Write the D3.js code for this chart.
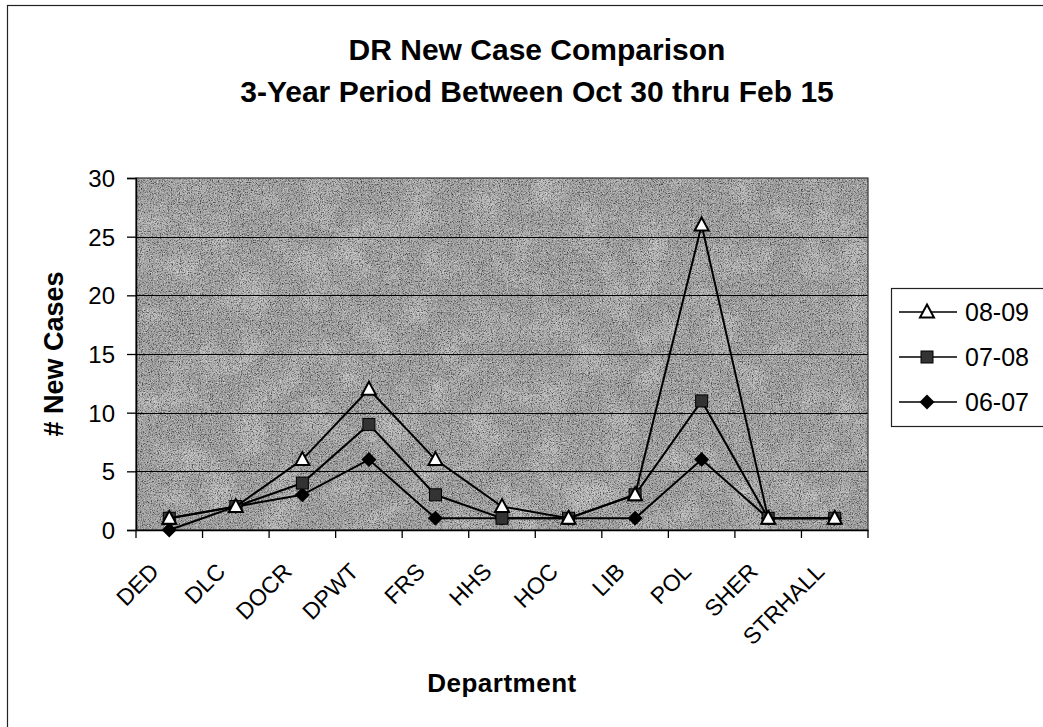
<!DOCTYPE html>
<html>
<head>
<meta charset="utf-8">
<script src="https://cdn.jsdelivr.net/npm/d3@7"></script>
<style>
  body { margin: 0; background: #fff; }
  text { font-family: Arial, "Liberation Sans", sans-serif; }
</style>
</head>
<body>
<div id="chart"></div>
<script>

// departments on the x axis
var departments = ["DED", "DLC", "DOCR", "DPWT", "FRS", "HHS", "HOC", "LIB", "POL", "SHER", "STRHALL"];

// new cases per season
var cases0809 = [1, 2, 6, 12, 6, 2, 1, 3, 26, 1, 1];
var cases0708 = [1, 2, 4, 9, 3, 1, 1, 3, 11, 1, 1];
var cases0607 = [0, 2, 3, 6, 1, 1, 1, 1, 6, 1, 1];

var seriesNames = ["08-09", "07-08", "06-07"];
var yTicks = [0, 5, 10, 15, 20, 25, 30];

var series = [
  {name: seriesNames[2], values: cases0607, marker: "diamond"},
  {name: seriesNames[1], values: cases0708, marker: "square"},
  {name: seriesNames[0], values: cases0809, marker: "triangle"}
];

///////////////////////////////////////////////////////////////
/////////////Line chart Renderer///////////////////////////////
///////////////////////////////////////////////////////////////
var W = 1043, H = 727;
var margin = {top: 178, right: 175, bottom: 197, left: 136},
  width = W - margin.left - margin.right,
  height = H - margin.top - margin.bottom;

var root = d3.select("#chart")
  .append("svg")
  .attr("width", W)
  .attr("height", H);

// texture for the scanned gray plot area
var defs = root.append("defs");
var grain = defs.append("filter").attr("id", "grain")
  .attr("x", 0).attr("y", 0).attr("width", 1).attr("height", 1);
grain.append("feTurbulence")
  .attr("type", "fractalNoise")
  .attr("baseFrequency", 0.9)
  .attr("numOctaves", 2)
  .attr("seed", 4);
grain.append("feColorMatrix")
  .attr("type", "matrix")
  .attr("values", "0 0 0 0 0  0 0 0 0 0  0 0 0 0 0  -3 0 0 0 1.6");

var speck = defs.append("filter").attr("id", "speck")
  .attr("x", 0).attr("y", 0).attr("width", 1).attr("height", 1);
speck.append("feTurbulence")
  .attr("type", "fractalNoise")
  .attr("baseFrequency", 0.7)
  .attr("numOctaves", 2)
  .attr("seed", 11);
speck.append("feColorMatrix")
  .attr("type", "matrix")
  .attr("values", "0 0 0 0 1  0 0 0 0 1  0 0 0 0 1  3 0 0 0 -1.5");

var blotch = defs.append("filter").attr("id", "blotch")
  .attr("x", 0).attr("y", 0).attr("width", 1).attr("height", 1);
blotch.append("feTurbulence")
  .attr("type", "fractalNoise")
  .attr("baseFrequency", 0.03)
  .attr("numOctaves", 3)
  .attr("seed", 9);
blotch.append("feColorMatrix")
  .attr("type", "matrix")
  .attr("values", "0 0 0 0 1  0 0 0 0 1  0 0 0 0 1  1.8 0 0 0 -0.8");

// chart area border
root.append("rect")
  .attr("x", 7.5).attr("y", 5.5)
  .attr("width", 1200).attr("height", 1000)
  .attr("fill", "none")
  .attr("stroke", "#222")
  .attr("stroke-width", 1.2);

var svg = root.append("g")
  .attr("transform", "translate(" + margin.left + "," + margin.top + ")");

// scales
var x = d3.scaleBand()
  .domain(departments)
  .range([0, width]);

var y = d3.scaleLinear()
  .domain([0, 30])
  .range([height, 0]);

// plot background
svg.append("rect")
  .attr("width", width).attr("height", height)
  .attr("fill", "#a4a4a4");
svg.append("rect")
  .attr("width", width).attr("height", height)
  .attr("filter", "url(#blotch)")
  .attr("opacity", 0.4);
svg.append("rect")
  .attr("width", width).attr("height", height)
  .attr("filter", "url(#grain)")
  .attr("opacity", 0.6);
svg.append("rect")
  .attr("width", width).attr("height", height)
  .attr("filter", "url(#speck)")
  .attr("opacity", 0.5);

// gridlines
svg.append("g")
  .selectAll("line")
  .data(yTicks.filter(d => d > 0 && d < 30))
  .enter().append("line")
  .attr("x1", 0).attr("x2", width)
  .attr("y1", d => Math.round(y(d)) + 0.5)
  .attr("y2", d => Math.round(y(d)) + 0.5)
  .attr("stroke", "#000")
  .attr("stroke-width", 1.2);

svg.append("rect")
  .attr("width", width).attr("height", height)
  .attr("fill", "none")
  .attr("stroke", "#333")
  .attr("stroke-width", 1.2);

// Y axis
var yAxis = svg.append("g")
  .call(d3.axisLeft(y).tickValues(yTicks).tickSize(9).tickPadding(12));
yAxis.select(".domain").attr("stroke", "#000").attr("stroke-width", 1.5);
yAxis.selectAll(".tick line").attr("stroke", "#000").attr("stroke-width", 1.3);
yAxis.selectAll("text")
  .attr("fill", "#000")
  .style("font-size", "24px")
  .attr("dy", "0.36em");

// X axis, ticks between categories
var xAxis = svg.append("g")
  .attr("transform", "translate(0," + height + ")")
  .call(d3.axisBottom(x).tickSize(0).tickFormat(""));
xAxis.select(".domain").attr("stroke", "#000").attr("stroke-width", 1.5);

xAxis.selectAll(".sep")
  .data(d3.range(departments.length + 1))
  .enter().append("line")
  .attr("class", "sep")
  .attr("x1", i => i * x.step()).attr("x2", i => i * x.step())
  .attr("y1", 0).attr("y2", 8)
  .attr("stroke", "#000")
  .attr("stroke-width", 1.3);

xAxis.selectAll(".lbl")
  .data(departments)
  .enter().append("text")
  .attr("class", "lbl")
  .attr("transform", d => "translate(" + (x(d) + x.bandwidth() / 2 - 9) + ",43)rotate(-45)")
  .attr("text-anchor", "end")
  .attr("fill", "#000")
  .style("font-size", "23px")
  .text(d => d);

// lines + markers
var line = d3.line()
  .x((d, i) => x(departments[i]) + x.bandwidth() / 2)
  .y(d => y(d));

function drawMarker(g, type, cx, cy) {
  if (type == "triangle") {
    g.append("path")
      .attr("d", "M" + cx + "," + (cy - 7.5) + "L" + (cx + 7) + "," + (cy + 5.5) + "L" + (cx - 7) + "," + (cy + 5.5) + "Z")
      .attr("fill", "#fff")
      .attr("stroke", "#000")
      .attr("stroke-width", 2);
  } else if (type == "square") {
    g.append("rect")
      .attr("x", cx - 6).attr("y", cy - 6)
      .attr("width", 12).attr("height", 12)
      .attr("fill", "#333")
      .attr("stroke", "#000")
      .attr("stroke-width", 1);
  } else {
    g.append("path")
      .attr("d", "M" + cx + "," + (cy - 7.5) + "L" + (cx + 7.5) + "," + cy + "L" + cx + "," + (cy + 7.5) + "L" + (cx - 7.5) + "," + cy + "Z")
      .attr("fill", "#000");
  }
}

series.forEach(function(s) {
  var g = svg.append("g");
  g.append("path")
    .datum(s.values)
    .attr("d", line)
    .attr("fill", "none")
    .attr("stroke", "#000")
    .attr("stroke-width", 2);
  s.values.forEach(function(v, i) {
    drawMarker(g, s.marker, x(departments[i]) + x.bandwidth() / 2, y(v));
  });
});

// axis titles
svg.append("text")
  .attr("transform", "translate(-73," + (height / 2) + ")rotate(-90)")
  .attr("text-anchor", "middle")
  .style("font-size", "27px")
  .style("font-weight", "bold")
  .text("# New Cases");

svg.append("text")
  .attr("x", width / 2)
  .attr("y", height + 162)
  .attr("text-anchor", "middle")
  .style("font-size", "26px")
  .style("font-weight", "bold")
  .style("letter-spacing", "0.5px")
  .text("Department");

// chart title
root.append("text")
  .attr("x", 537).attr("y", 60)
  .attr("text-anchor", "middle")
  .style("font-size", "30px")
  .style("font-weight", "bold")
  .text("DR New Case Comparison");
root.append("text")
  .attr("x", 537).attr("y", 102)
  .attr("text-anchor", "middle")
  .style("font-size", "30px")
  .style("font-weight", "bold")
  .text("3-Year Period Between Oct 30 thru Feb 15");

// legend
var legend = root.append("g").attr("transform", "translate(891,288)");
legend.append("rect")
  .attr("x", 0.5).attr("y", 0.5)
  .attr("width", 200).attr("height", 138)
  .attr("fill", "#fff")
  .attr("stroke", "#222")
  .attr("stroke-width", 1.2);

seriesNames.forEach(function(name, i) {
  var s = series.find(d => d.name == name);
  var ly = 24 + i * 45;
  var item = legend.append("g");
  item.append("line")
    .attr("x1", 8).attr("x2", 66)
    .attr("y1", ly).attr("y2", ly)
    .attr("stroke", "#000")
    .attr("stroke-width", 1.5);
  drawMarker(item, s.marker, 36, ly);
  item.append("text")
    .attr("x", 74).attr("y", ly)
    .attr("dy", "0.36em")
    .style("font-size", "25px")
    .text(name);
});

</script>
</body>
</html>
